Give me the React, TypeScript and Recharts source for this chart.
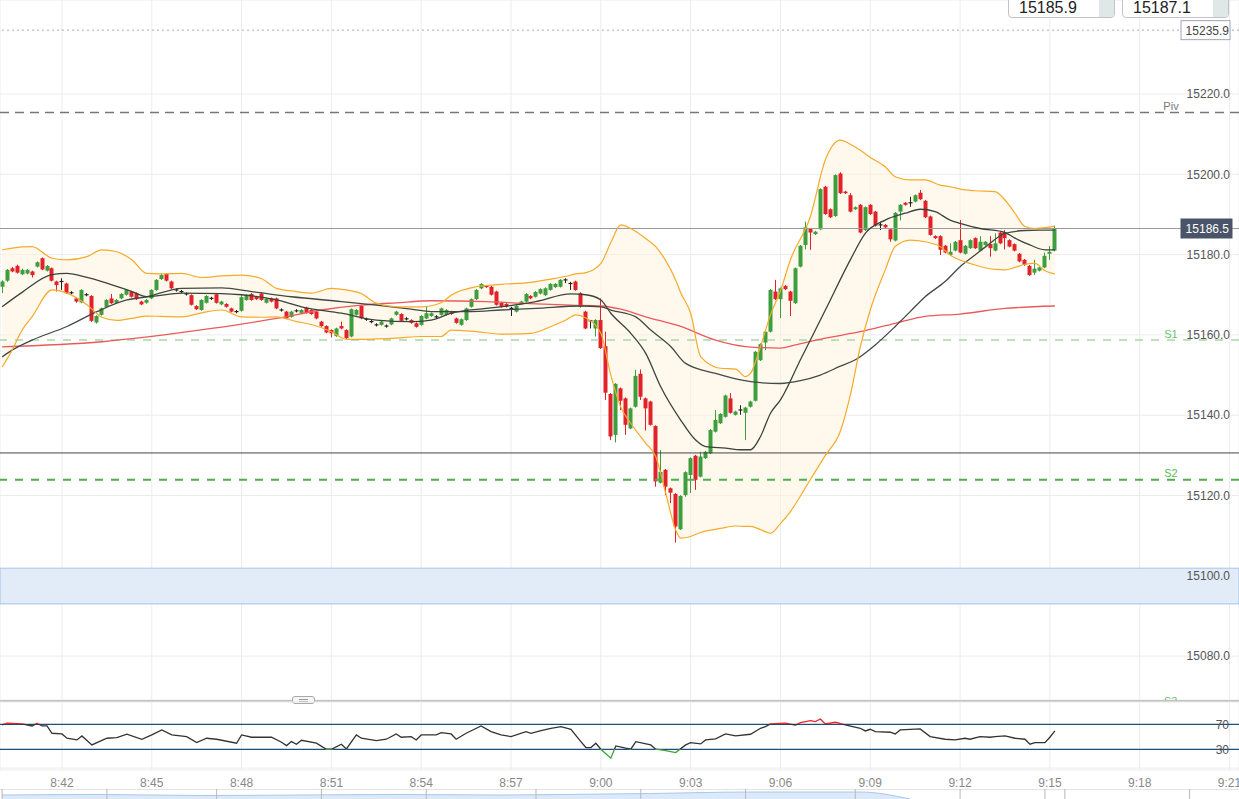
import React from "react";
import {
  ComposedChart,
  AreaChart,
  Area,
  Bar,
  Line,
  XAxis,
  YAxis,
  CartesianGrid,
  ReferenceLine,
  ReferenceArea,
} from "recharts";

const W = 1239;
const MAIN_H = 700;
const X_DOMAIN: [number, number] = [-0.42, 247.9];
const FONT = "'Liberation Sans', Arial, sans-serif";

// 10-second candles from 8:40:00 — [open, high, low, close]
const candles: number[][] = [
  [15172.0, 15173.6, 15170.4, 15173.3], [15173.5, 15176.4, 15173.2, 15176.2], [15176.6, 15176.9, 15175.6, 15175.8],
  [15177.2, 15177.5, 15175.3, 15175.5], [15175.1, 15176.5, 15174.9, 15176.2], [15175.3, 15176.4, 15175.1, 15176.2],
  [15175.8, 15176.0, 15174.3, 15174.9], [15177.0, 15178.3, 15176.8, 15178.1], [15179.1, 15179.3, 15176.1, 15176.3],
  [15176.0, 15177.4, 15175.8, 15177.2], [15176.6, 15176.8, 15173.3, 15173.5], [15173.3, 15173.5, 15170.8, 15172.4],
  [15173.3, 15174.1, 15171.2, 15173.3], [15172.8, 15173.0, 15170.2, 15170.4], [15170.5, 15170.9, 15170.1, 15170.5],
  [15169.1, 15169.4, 15168.0, 15168.3], [15168.1, 15171.4, 15167.9, 15171.2], [15170.0, 15170.4, 15169.6, 15170.0],
  [15169.7, 15169.9, 15163.2, 15163.5], [15163.1, 15164.9, 15162.8, 15164.7], [15165.0, 15166.8, 15164.8, 15166.6],
  [15167.0, 15168.9, 15166.8, 15168.7], [15169.1, 15170.2, 15167.7, 15167.9], [15168.0, 15168.9, 15167.8, 15168.7],
  [15169.1, 15170.4, 15168.9, 15170.2], [15170.0, 15171.4, 15169.8, 15171.2], [15170.8, 15171.0, 15169.3, 15169.5],
  [15170.4, 15170.6, 15168.7, 15168.9], [15168.3, 15168.5, 15167.4, 15167.6], [15168.0, 15168.9, 15167.8, 15168.7],
  [15169.1, 15171.4, 15168.9, 15171.2], [15171.2, 15173.9, 15171.0, 15173.7], [15173.9, 15175.3, 15173.7, 15174.9],
  [15175.2, 15175.4, 15173.3, 15173.5], [15173.3, 15173.5, 15171.4, 15171.6], [15171.2, 15171.6, 15170.8, 15171.2],
  [15170.8, 15171.2, 15170.4, 15170.8], [15170.2, 15170.6, 15169.8, 15170.2], [15169.9, 15170.1, 15167.3, 15167.5],
  [15167.2, 15167.4, 15166.2, 15166.4], [15166.2, 15168.9, 15166.0, 15168.7], [15168.0, 15169.9, 15167.8, 15169.7],
  [15169.1, 15169.5, 15168.7, 15169.1], [15170.1, 15170.3, 15167.8, 15168.0], [15167.6, 15168.5, 15167.4, 15168.3],
  [15167.7, 15167.9, 15166.8, 15167.0], [15166.6, 15166.8, 15165.6, 15165.8], [15165.8, 15166.2, 15165.4, 15165.8],
  [15166.0, 15170.1, 15165.8, 15169.4], [15168.7, 15170.1, 15168.5, 15169.9], [15170.2, 15170.4, 15168.5, 15168.7],
  [15169.5, 15169.7, 15168.7, 15168.9], [15170.3, 15170.5, 15168.5, 15168.7], [15168.0, 15169.2, 15167.8, 15169.0],
  [15169.1, 15169.3, 15168.1, 15168.3], [15169.1, 15169.3, 15166.4, 15166.6], [15166.2, 15166.6, 15165.8, 15166.2],
  [15165.8, 15166.0, 15163.9, 15164.1], [15164.5, 15166.0, 15164.3, 15165.8], [15166.0, 15166.4, 15165.6, 15166.0],
  [15165.5, 15166.4, 15165.3, 15166.2], [15166.8, 15167.0, 15165.3, 15165.5], [15166.2, 15166.4, 15165.0, 15165.2],
  [15165.8, 15166.0, 15163.9, 15164.1], [15163.3, 15163.5, 15162.0, 15162.2], [15162.2, 15162.4, 15160.4, 15160.6],
  [15161.2, 15161.4, 15159.4, 15160.4], [15159.7, 15161.8, 15159.5, 15161.6], [15162.2, 15163.3, 15161.4, 15161.6],
  [15161.2, 15161.4, 15159.0, 15159.2], [15159.6, 15166.6, 15159.4, 15166.4], [15165.0, 15166.4, 15164.8, 15166.2],
  [15167.2, 15167.4, 15163.9, 15164.1], [15163.9, 15164.3, 15163.5, 15163.9], [15163.3, 15163.7, 15162.9, 15163.3],
  [15162.5, 15162.9, 15162.1, 15162.5], [15162.5, 15163.5, 15162.3, 15163.3], [15162.2, 15162.6, 15161.8, 15162.2],
  [15162.6, 15164.3, 15162.4, 15164.1], [15165.0, 15166.0, 15164.8, 15165.8], [15165.2, 15165.4, 15163.3, 15163.5],
  [15164.0, 15164.4, 15163.6, 15164.0], [15163.7, 15163.9, 15162.8, 15163.0], [15162.9, 15163.1, 15161.8, 15162.0],
  [15162.5, 15164.9, 15162.3, 15164.7], [15164.1, 15167.2, 15163.9, 15165.4], [15164.7, 15165.6, 15164.5, 15165.4],
  [15164.5, 15164.9, 15164.1, 15164.5], [15165.0, 15166.8, 15164.8, 15166.6], [15165.0, 15166.4, 15164.8, 15166.2],
  [15165.8, 15166.0, 15165.0, 15165.2], [15164.1, 15164.3, 15162.8, 15163.0], [15162.5, 15164.1, 15162.3, 15163.9],
  [15163.7, 15166.8, 15163.5, 15166.6], [15167.0, 15169.1, 15166.8, 15168.9], [15168.9, 15171.4, 15168.7, 15171.2],
  [15171.6, 15172.9, 15171.4, 15172.7], [15172.2, 15172.4, 15171.7, 15171.9], [15172.0, 15172.2, 15169.8, 15170.0],
  [15170.8, 15171.0, 15167.3, 15167.5], [15168.0, 15168.2, 15166.8, 15167.0], [15167.7, 15167.9, 15166.8, 15167.0],
  [15166.6, 15167.0, 15164.7, 15166.6], [15165.8, 15167.4, 15165.6, 15167.2], [15167.7, 15168.5, 15167.5, 15168.3],
  [15168.3, 15170.4, 15168.1, 15170.2], [15169.7, 15169.9, 15168.9, 15169.1], [15169.5, 15170.9, 15169.3, 15170.7],
  [15170.3, 15171.6, 15170.1, 15171.4], [15169.9, 15171.8, 15169.7, 15171.6], [15171.2, 15172.9, 15171.0, 15172.7],
  [15171.9, 15172.9, 15171.7, 15172.7], [15172.0, 15173.9, 15171.8, 15173.7], [15173.7, 15174.1, 15172.9, 15173.7],
  [15172.8, 15173.2, 15171.2, 15172.8], [15173.3, 15173.5, 15171.0, 15171.2], [15170.4, 15170.6, 15166.8, 15167.0],
  [15165.8, 15166.0, 15161.4, 15161.6], [15163.5, 15163.7, 15161.6, 15163.5], [15161.6, 15163.9, 15159.6, 15163.7],
  [15163.7, 15169.1, 15156.5, 15156.7], [15157.2, 15160.8, 15143.8, 15145.6], [15145.3, 15145.5, 15133.8, 15134.7],
  [15135.1, 15148.0, 15133.2, 15147.8], [15146.7, 15146.9, 15141.3, 15143.6], [15144.2, 15144.4, 15135.1, 15137.6],
  [15136.7, 15141.9, 15136.5, 15141.7], [15142.1, 15151.3, 15141.9, 15149.8], [15150.3, 15151.4, 15143.8, 15144.6],
  [15144.2, 15144.4, 15136.2, 15141.7], [15143.4, 15143.6, 15137.4, 15137.6], [15137.3, 15137.5, 15122.2, 15123.5],
  [15123.2, 15131.3, 15123.0, 15125.9], [15126.4, 15126.6, 15120.1, 15122.2], [15121.8, 15122.0, 15118.1, 15120.7],
  [15120.4, 15120.6, 15108.3, 15112.3], [15111.6, 15120.1, 15111.4, 15119.9], [15120.1, 15126.0, 15119.7, 15125.8],
  [15125.1, 15129.5, 15120.6, 15129.3], [15129.9, 15130.1, 15121.4, 15123.9], [15124.7, 15130.9, 15124.5, 15129.7],
  [15129.3, 15131.1, 15129.1, 15130.9], [15130.5, 15136.5, 15130.3, 15136.3], [15135.9, 15141.3, 15135.7, 15138.8],
  [15138.0, 15140.5, 15137.8, 15140.3], [15139.6, 15145.1, 15139.4, 15144.9], [15144.2, 15145.5, 15140.4, 15140.6],
  [15140.1, 15141.1, 15139.9, 15140.9], [15141.3, 15142.5, 15140.1, 15141.3], [15140.6, 15142.1, 15133.8, 15141.9],
  [15142.1, 15143.6, 15141.9, 15143.4], [15143.6, 15156.0, 15143.4, 15155.8], [15153.7, 15157.9, 15153.5, 15157.7],
  [15158.1, 15161.0, 15156.2, 15160.8], [15160.8, 15171.4, 15160.6, 15171.2], [15170.8, 15173.7, 15168.7, 15168.9],
  [15168.9, 15171.8, 15164.2, 15171.6], [15172.2, 15172.4, 15171.2, 15171.4], [15170.8, 15171.0, 15164.7, 15168.5],
  [15167.9, 15176.8, 15167.7, 15176.6], [15177.0, 15182.4, 15176.8, 15182.2], [15182.4, 15188.2, 15181.3, 15186.8],
  [15186.4, 15186.6, 15181.2, 15185.5], [15185.1, 15185.9, 15184.9, 15185.7], [15186.3, 15196.5, 15186.1, 15196.3],
  [15196.9, 15197.1, 15189.9, 15190.1], [15191.3, 15191.5, 15189.1, 15189.3], [15189.6, 15200.0, 15189.4, 15199.8],
  [15200.2, 15200.5, 15195.1, 15195.3], [15195.7, 15195.9, 15195.1, 15195.3], [15194.8, 15195.3, 15190.5, 15190.7],
  [15191.3, 15192.0, 15191.1, 15191.8], [15192.4, 15192.6, 15185.3, 15185.5], [15186.1, 15192.0, 15185.9, 15191.8],
  [15192.4, 15192.6, 15189.9, 15190.1], [15190.7, 15190.9, 15187.0, 15187.2], [15187.4, 15188.2, 15186.1, 15187.4],
  [15187.4, 15187.6, 15186.6, 15186.8], [15186.3, 15186.5, 15183.2, 15183.8], [15183.5, 15190.6, 15183.3, 15190.4],
  [15190.7, 15192.6, 15188.5, 15192.4], [15192.9, 15193.1, 15192.2, 15192.4], [15192.9, 15194.4, 15191.9, 15192.9],
  [15193.2, 15195.0, 15193.0, 15194.8], [15195.4, 15196.1, 15193.6, 15193.8], [15193.4, 15193.6, 15189.1, 15189.3],
  [15189.5, 15189.7, 15184.7, 15184.9], [15184.6, 15184.8, 15183.9, 15184.1], [15184.6, 15184.8, 15179.9, 15181.2],
  [15182.2, 15182.4, 15180.3, 15180.5], [15179.9, 15182.8, 15179.7, 15180.7], [15181.0, 15183.4, 15180.8, 15183.2],
  [15183.6, 15188.6, 15180.3, 15180.5], [15180.2, 15182.4, 15180.0, 15182.2], [15181.6, 15183.8, 15181.4, 15183.6],
  [15184.1, 15184.3, 15181.4, 15181.6], [15181.0, 15184.6, 15180.8, 15183.2], [15182.4, 15183.4, 15182.2, 15183.2],
  [15182.6, 15184.6, 15179.5, 15181.6], [15181.0, 15185.3, 15180.8, 15182.8], [15185.5, 15185.7, 15182.6, 15182.8],
  [15185.5, 15186.1, 15181.3, 15184.1], [15183.6, 15183.8, 15181.8, 15182.0], [15182.6, 15182.8, 15180.8, 15181.0],
  [15180.2, 15180.4, 15178.1, 15178.3], [15178.7, 15178.9, 15177.2, 15177.4], [15177.2, 15177.4, 15174.7, 15174.9],
  [15175.5, 15178.7, 15174.9, 15176.5], [15176.0, 15177.0, 15175.8, 15176.8], [15176.8, 15180.5, 15176.6, 15179.7],
  [15180.2, 15182.1, 15178.7, 15180.7], [15181.0, 15187.2, 15180.8, 15186.5],
];

// Bollinger bands — [candle index, upper, lower]
const bollinger: number[][] = [
  [0, 15181.2, 15152.0], [2, 15181.6, 15156.2], [4, 15181.9, 15161.2], [6, 15182.0, 15164.5],
  [10, 15179.1, 15171.2], [13, 15178.7, 15170.4], [17, 15179.5, 15167.5], [20, 15181.2, 15164.4],
  [23, 15180.7, 15163.6], [26, 15178.7, 15164.1], [29, 15175.3, 15164.7], [32, 15175.2, 15164.6],
  [36, 15175.3, 15164.5], [40, 15174.3, 15165.5], [44, 15174.7, 15166.2], [48, 15174.9, 15164.5],
  [52, 15174.0, 15164.4], [55, 15171.6, 15164.5], [59, 15170.8, 15163.3], [62, 15170.4, 15162.6],
  [66, 15171.6, 15160.8], [69, 15171.2, 15158.9], [72, 15170.3, 15158.9], [75, 15167.9, 15159.0],
  [79, 15167.0, 15159.2], [84, 15167.0, 15159.6], [88, 15168.0, 15159.6], [90, 15169.9, 15161.2],
  [95, 15172.0, 15160.8], [100, 15172.6, 15160.2], [106, 15173.1, 15160.4], [110, 15173.9, 15162.1],
  [113, 15174.6, 15163.7], [115, 15175.2, 15165.0], [117, 15175.5, 15164.2], [120, 15177.8, 15160.4],
  [122, 15183.0, 15150.0], [124, 15187.4, 15142.0], [126, 15186.5, 15138.0], [129, 15184.0, 15133.0],
  [131, 15182.0, 15129.7], [133, 15178.5, 15120.6], [135, 15173.7, 15111.4], [136, 15170.5, 15109.4],
  [138, 15165.4, 15109.8], [140, 15154.6, 15110.8], [144, 15151.7, 15111.8], [147, 15151.5, 15112.4],
  [149, 15149.6, 15112.3], [150, 15150.4, 15112.3], [152, 15157.1, 15111.5], [154, 15165.0, 15110.6],
  [156, 15171.0, 15113.0], [158, 15178.7, 15116.0], [162, 15189.5, 15124.0], [165, 15203.6, 15130.0],
  [168, 15208.5, 15136.0], [170, 15207.5, 15145.0], [172, 15206.0, 15157.0], [174, 15204.2, 15166.2],
  [177, 15201.9, 15176.2], [179, 15199.4, 15182.0], [182, 15198.6, 15183.6], [185, 15198.6, 15183.2],
  [188, 15197.3, 15182.0], [190, 15196.9, 15179.9], [193, 15196.1, 15178.2], [195, 15195.9, 15177.4],
  [199, 15195.7, 15176.3], [201, 15193.6, 15176.2], [203, 15190.3, 15176.8], [205, 15187.0, 15177.6],
  [207, 15186.5, 15177.8], [209, 15186.7, 15176.0], [211, 15187.1, 15175.2],
];

const bollingerMid: number[][] = [
  [0, 15167.0], [4, 15170.6], [10, 15175.0], [13, 15175.3], [17, 15174.3], [20, 15173.3], [26, 15170.8],
  [29, 15169.5], [36, 15170.4], [44, 15170.3], [48, 15170.0], [55, 15168.7], [60, 15167.0], [68, 15165.4],
  [75, 15163.7], [82, 15163.3], [86, 15163.7], [90, 15165.4], [97, 15166.6], [100, 15167.0], [107, 15168.3],
  [114, 15170.2], [117, 15170.0], [120, 15168.7], [122, 15165.4], [126, 15160.4], [129, 15155.4],
  [132, 15147.1], [136, 15138.8], [139, 15133.8], [141, 15132.2], [145, 15131.8], [148, 15131.4],
  [150, 15131.4], [152, 15134.7], [154, 15140.5], [156, 15143.8], [160, 15153.8], [165, 15166.2],
  [170, 15178.7], [173, 15185.3], [177, 15188.6], [181, 15190.3], [184, 15191.3], [187, 15190.7],
  [190, 15188.6], [192, 15187.8], [196, 15186.5], [201, 15185.5], [203, 15184.1], [206, 15182.4],
  [209, 15181.2], [211, 15181.2],
];

const smaLong: number[][] = [
  [0, 15154.5], [2, 15156.2], [6, 15158.7], [13, 15162.1], [19, 15165.8], [25, 15168.7], [29, 15169.5],
  [36, 15171.6], [44, 15171.7], [50, 15170.8], [58, 15169.5], [68, 15168.3], [75, 15167.4], [82, 15166.4],
  [86, 15165.8], [94, 15165.8], [100, 15166.2], [107, 15166.6], [116, 15167.2], [120, 15167.0],
  [122, 15166.2], [127, 15164.5], [130, 15161.2], [134, 15157.1], [137, 15152.9], [143, 15150.4],
  [148, 15148.8], [152, 15148.1], [156, 15147.9], [160, 15148.6], [164, 15150.0], [168, 15152.2],
  [171, 15153.8], [175, 15157.5], [179, 15162.1], [182, 15165.8], [185, 15169.5], [189, 15173.3],
  [192, 15177.0], [195, 15179.9], [198, 15182.8], [201, 15185.3], [205, 15186.0], [208, 15186.1],
  [211, 15186.1],
];

const smaRed: number[][] = [
  [0, 15157.0], [20, 15158.3], [42, 15161.6], [55, 15164.1], [64, 15166.2], [72, 15167.4], [79, 15168.0],
  [86, 15168.5], [97, 15168.3], [104, 15167.9], [114, 15167.4], [120, 15167.2], [124, 15166.4],
  [129, 15164.5], [136, 15162.1], [143, 15158.7], [149, 15157.1], [156, 15156.7], [159, 15157.5],
  [165, 15159.2], [172, 15160.8], [179, 15162.9], [185, 15164.6], [192, 15165.2], [201, 15166.6],
  [211, 15167.2],
];

const rsi: number[][] = [
  [0, 69.2], [1, 71.9], [4, 70.8], [6, 67.6], [7, 71.9], [8, 67.6], [9, 67.6], [10, 55.9], [12, 54.8],
  [13, 47.9], [15, 45.2], [16, 51.6], [18, 37.2], [21, 47.9], [23, 48.9], [25, 54.3], [28, 46.3],
  [30, 53.2], [32, 61.2], [34, 53.2], [37, 50.5], [39, 40.9], [41, 47.9], [43, 46.3], [47, 39.9],
  [48, 53.2], [50, 49.5], [54, 49.5], [56, 41.5], [57, 36.1], [58, 42.5], [59, 38.3], [60, 44.7],
  [63, 39.9], [65, 30.3], [66, 30.3], [68, 38.3], [69, 30.8], [71, 53.2], [72, 47.9], [75, 44.1],
  [77, 46.3], [79, 54.8], [80, 49.5], [82, 50.5], [83, 45.2], [84, 53.2], [87, 53.2], [88, 56.9],
  [90, 54.8], [91, 46.3], [93, 55.9], [96, 67.6], [98, 58.5], [100, 53.2], [102, 50.5], [105, 58.5],
  [106, 55.9], [108, 60.1], [110, 63.9], [112, 66.5], [114, 62.3], [116, 42.5], [117, 33.0], [118, 33.0],
  [119, 39.9], [120, 30.3], [122, 15.9], [123, 35.6], [125, 31.9], [126, 30.3], [127, 42.5], [130, 37.2],
  [131, 30.3], [133, 28.1], [135, 24.9], [137, 37.2], [138, 40.9], [140, 38.8], [141, 45.2], [143, 46.8],
  [145, 54.8], [147, 51.6], [150, 54.3], [152, 63.9], [153, 66.5], [154, 70.8], [157, 71.9], [159, 69.0],
  [160, 72.9], [162, 76.1], [163, 74.5], [164, 78.8], [165, 70.8], [167, 73.5], [169, 69.2], [172, 63.9],
  [173, 59.6], [174, 62.3], [175, 58.5], [178, 57.5], [179, 54.8], [180, 61.2], [184, 62.8], [186, 50.5],
  [189, 46.3], [191, 45.2], [193, 47.9], [194, 46.3], [196, 50.5], [198, 49.5], [199, 50.5], [201, 51.6],
  [203, 47.9], [205, 46.3], [206, 38.3], [207, 40.9], [209, 40.9], [210, 49.5], [211, 59.6],
];

// navigator strip at the very bottom
const navigator: number[][] = [
  [0, 4], [20, 4.5], [40, 3.5], [60, 4], [80, 4.5], [100, 4], [112, 4.5], [130, 5.5], [150, 7], [172, 7], [182, 0],
];
const navTicks = [0, 21, 43, 64, 85, 107, 128, 149, 171, 192, 209, 213, 238];

const timeTicks = [12, 30, 48, 66, 84, 102, 120, 138, 156, 174, 192, 210, 228, 246];
const priceTicks = [15080, 15100, 15120, 15140, 15160, 15180, 15200, 15220];
const rsiTicks = [0, 30, 70];

const pivot = 15215.4;
const support1 = 15158.7;
const support2 = 15123.9;
const levelLine = 15130.6;
const lastPrice = 15186.5;
const sessionHigh = 15235.9;
const zoneLow = 15093.0;
const zoneHigh = 15101.9;
const bidPrice = "15185.9";
const askPrice = "15187.1";

const GREEN = "#3c9e3c";
const RED = "#e2222a";

const fmtTime = (i: number) => {
  const s = 8 * 3600 + 40 * 60 + i * 10;
  const h = Math.floor(s / 3600);
  const m = Math.floor((s % 3600) / 60);
  return `${h}:${String(m).padStart(2, "0")}`;
};

const Candle = (props: any) => {
  const { x, y, width, height, payload } = props;
  if (!payload || x == null) return null;
  const { o, h, l, c } = payload;
  const top = Math.min(y, y + height);
  const span = Math.abs(height);
  const k = h > l ? span / (h - l) : 0;
  const py = (v: number) => top + (h - v) * k;
  const cx = Math.round(x + width / 2) + 0.5;
  const color = o === c ? "#222" : c > o ? GREEN : RED;
  const bTop = py(Math.max(o, c));
  const bBot = py(Math.min(o, c));
  return (
    <g>
      <line x1={cx} x2={cx} y1={top} y2={top + span} stroke={color} strokeWidth={1} />
      {o === c ? (
        <line x1={cx - 2} x2={cx + 2} y1={bTop} y2={bTop} stroke={color} strokeWidth={1.2} />
      ) : (
        <rect x={cx - 2} y={bTop} width={4} height={Math.max(1, bBot - bTop)} fill={color} />
      )}
    </g>
  );
};

// price tag box at the right end of a reference line
const PriceTag = (props: any) => {
  const { viewBox, text, fill, stroke, color, w } = props;
  if (!viewBox) return null;
  const right = viewBox.x + viewBox.width;
  return (
    <g>
      <rect x={right - 58} y={viewBox.y - 9.5} width={w} height={19} fill={fill} stroke={stroke} />
      <text x={right - 10} y={viewBox.y + 4.5} textAnchor="end" fontSize={12} fill={color} fontFamily={FONT}>
        {text}
      </text>
    </g>
  );
};

const LevelTag = (props: any) => {
  const { viewBox, text, color } = props;
  if (!viewBox) return null;
  const right = viewBox.x + viewBox.width;
  return (
    <text x={right - 68} y={viewBox.y - 2.5} textAnchor="middle" fontSize={11} fill={color} fontFamily={FONT}>
      {text}
    </text>
  );
};

export default function App() {
  const candleData = candles.map(([o, h, l, c], i) => ({ t: i, o, h, l, c, range: [l, h] }));
  const bandData = bollinger.map(([t, u, lo]) => ({ t, upper: u, lower: lo, band: [lo, u] }));
  const toSeries = (arr: number[][]) => arr.map(([t, v]) => ({ t, v }));
  const rsiData = toSeries(rsi);
  const navData = toSeries(navigator);

  const rsiVals = rsi.map((r) => r[1]);
  const rMax = Math.max(...rsiVals);
  const rMin = Math.min(...rsiVals);
  const off70 = (rMax - 70) / (rMax - rMin);
  const off30 = (rMax - 30) / (rMax - rMin);

  return (
    <div
      style={{
        position: "fixed",
        left: 0,
        top: 0,
        width: W,
        height: 799,
        background: "#fff",
        overflow: "hidden",
        fontFamily: FONT,
      }}
    >
      <div style={{ position: "absolute", left: 0, top: 0 }}>
        <ComposedChart width={W} height={MAIN_H} data={candleData} margin={{ top: 0, right: 0, bottom: 0, left: 0 }}>
          <CartesianGrid stroke="#ececec" />
          <XAxis dataKey="t" type="number" domain={X_DOMAIN} ticks={timeTicks} hide allowDataOverflow />
          <YAxis
            orientation="right"
            mirror
            width={1}
            domain={[15069.07, 15243.41]}
            ticks={priceTicks}
            interval={0}
            allowDataOverflow
            axisLine={false}
            tickLine={false}
            tickSize={0}
            tickMargin={9}
            tick={{ fill: "#555", fontSize: 12, fontFamily: FONT }}
            tickFormatter={(v: number) => v.toFixed(1)}
          />
          <ReferenceArea y1={zoneLow} y2={zoneHigh} fill="#e2ecf8" fillOpacity={1} stroke="#a6c2e8" />
          <Area
            data={bandData}
            dataKey="band"
            type="monotone"
            stroke="none"
            fill="#fff4de"
            fillOpacity={0.55}
            activeDot={false}
            isAnimationActive={false}
          />
          <ReferenceLine
            y={sessionHigh}
            stroke="#aaa"
            strokeDasharray="2 3"
            label={<PriceTag text={sessionHigh.toFixed(1)} fill="#fff" stroke="#a3a3bb" color="#444" w={49} />}
          />
          <ReferenceLine y={pivot} stroke="#777" strokeWidth={1.5} strokeDasharray="9 6" label={<LevelTag text="Piv" color="#777" />} />
          <ReferenceLine y={support1} stroke="#a8d8a8" strokeWidth={1.5} strokeDasharray="8 8" label={<LevelTag text="S1" color="#6cbf6c" />} />
          <ReferenceLine y={support2} stroke="#4cae4c" strokeWidth={2} strokeDasharray="8 8" label={<LevelTag text="S2" color="#5cb85c" />} />
          <ReferenceLine y={levelLine} stroke="#444" strokeWidth={1} />
          <ReferenceLine
            y={lastPrice}
            stroke="#9a9a9a"
            strokeWidth={1}
            label={<PriceTag text={lastPrice.toFixed(1)} fill="#4a5468" stroke="#4a5468" color="#fff" w={51} />}
          />
          <Bar dataKey="range" barSize={4} shape={<Candle />} isAnimationActive={false} />
          <Line data={toSeries(smaRed)} dataKey="v" type="monotone" stroke="#eb5a5a" strokeWidth={1.3} dot={false} activeDot={false} isAnimationActive={false} />
          <Line data={toSeries(smaLong)} dataKey="v" type="monotone" stroke="#414a43" strokeWidth={1.3} dot={false} activeDot={false} isAnimationActive={false} />
          <Line data={toSeries(bollingerMid)} dataKey="v" type="monotone" stroke="#3a433c" strokeWidth={1.3} dot={false} activeDot={false} isAnimationActive={false} />
          <Line data={bandData} dataKey="upper" type="monotone" stroke="#f6aa2a" strokeWidth={1.2} dot={false} activeDot={false} isAnimationActive={false} />
          <Line data={bandData} dataKey="lower" type="monotone" stroke="#f6aa2a" strokeWidth={1.2} dot={false} activeDot={false} isAnimationActive={false} />
        </ComposedChart>
      </div>

      {/* bid / ask boxes */}
      {[
        { left: 1008, text: bidPrice },
        { left: 1122, text: askPrice },
      ].map((b) => (
        <div
          key={b.text}
          style={{
            position: "absolute",
            left: b.left,
            top: -4,
            width: 107,
            height: 22,
            border: "1px solid #c3c3c3",
            borderRadius: 4,
            background: "#fff",
            overflow: "hidden",
            boxSizing: "border-box",
          }}
        >
          <div style={{ position: "absolute", right: 0, top: 0, width: 15, height: 22, background: "#dfe7e7" }} />
          <div style={{ position: "absolute", left: 10, top: 2, fontSize: 16, color: "#222", lineHeight: "18px" }}>
            {b.text}
          </div>
        </div>
      ))}

      {/* panel separator */}
      <div style={{ position: "absolute", left: 0, top: 700, width: W, height: 2, background: "#c2c2c2" }} />
      <div
        style={{
          position: "absolute",
          left: 292,
          top: 696,
          width: 23,
          height: 8,
          border: "1px solid #a8a8a8",
          borderRadius: 3,
          background: "#f6f6f6",
          boxSizing: "border-box",
        }}
      >
        <div style={{ position: "absolute", left: 6, right: 6, top: 2, height: 1, background: "#999" }} />
        <div style={{ position: "absolute", left: 6, right: 6, top: 4, height: 1, background: "#999" }} />
      </div>
      <div style={{ position: "absolute", left: 1164, top: 695, height: 5, overflow: "hidden" }}>
        <div style={{ fontSize: 11, color: "#6cbf6c", lineHeight: "13px" }}>S3</div>
      </div>

      {/* RSI panel + time axis */}
      <div style={{ position: "absolute", left: 0, top: 700 }}>
        <ComposedChart width={W} height={90} data={rsiData} margin={{ top: 2, right: 0, bottom: 0, left: 0 }}>
          <defs>
            <linearGradient id="rsiStroke" x1="0" y1="0" x2="0" y2="1">
              <stop offset={0} stopColor="#e8262b" />
              <stop offset={off70} stopColor="#e8262b" />
              <stop offset={off70} stopColor="#333" />
              <stop offset={off30} stopColor="#333" />
              <stop offset={off30} stopColor="#3aa33a" />
              <stop offset={1} stopColor="#3aa33a" />
            </linearGradient>
          </defs>
          <CartesianGrid stroke="#ececec" />
          <XAxis
            dataKey="t"
            type="number"
            domain={X_DOMAIN}
            ticks={timeTicks}
            interval={0}
            allowDataOverflow
            tickFormatter={fmtTime}
            axisLine={false}
            tickLine={false}
            height={20}
            tick={{ fill: "#888", fontSize: 12, fontFamily: FONT }}
          />
          <YAxis
            orientation="right"
            mirror
            width={1}
            domain={[-3, 106]}
            ticks={rsiTicks}
            interval={0}
            allowDataOverflow
            axisLine={false}
            tickLine={false}
            tickSize={0}
            tickMargin={10}
            tick={{ fill: "#555", fontSize: 12, fontFamily: FONT }}
            tickFormatter={(v: number) => (v === 0 ? "" : String(v))}
          />
          <ReferenceLine y={70} stroke="#1f4e7a" strokeWidth={1.2} />
          <ReferenceLine y={30} stroke="#1f4e7a" strokeWidth={1.2} />
          <Line dataKey="v" stroke="url(#rsiStroke)" strokeWidth={1.3} dot={false} activeDot={false} isAnimationActive={false} />
        </ComposedChart>
      </div>

      {/* navigator */}
      <div style={{ position: "absolute", left: 0, top: 789 }}>
        <AreaChart width={W} height={10} data={navData} margin={{ top: 0, right: 0, bottom: 0, left: 0 }}>
          <XAxis dataKey="t" type="number" domain={X_DOMAIN} hide allowDataOverflow />
          <YAxis domain={[0, 10]} hide />
          <ReferenceLine y={10} stroke="#c8c8c8" />
          {navTicks.map((t) => (
            <ReferenceLine key={t} x={t} stroke="#b8b8b8" />
          ))}
          <Area dataKey="v" type="monotone" stroke="#a9c8ec" fill="#dce9f8" fillOpacity={1} activeDot={false} isAnimationActive={false} />
        </AreaChart>
      </div>
    </div>
  );
}
